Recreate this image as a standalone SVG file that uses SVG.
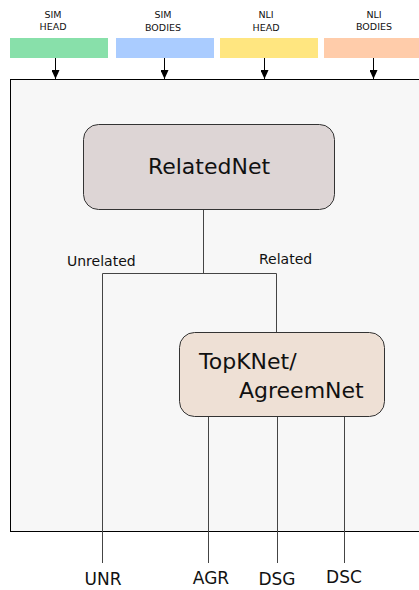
<svg xmlns="http://www.w3.org/2000/svg" width="419" height="590" viewBox="0 0 419 590">
<style>
text{font-family:"DejaVu Sans",Verdana,sans-serif;fill:#111}
.in{stroke:none}
.lbl{font-size:9.5px;text-anchor:middle}
.node{stroke:#333;stroke-width:1}
.conn{stroke:#444;stroke-width:1;fill:none}
.out{font-size:17px;text-anchor:middle}
</style>
<defs>
<marker id="arr" markerWidth="8" markerHeight="9" refX="4" refY="9" orient="0" markerUnits="userSpaceOnUse" viewBox="0 0 8 9">
<path d="M0,0 L8,0 L4,9 Z" fill="#000"/>
</marker>
</defs>
<rect x="10.5" y="79.5" width="420" height="452" fill="#f7f7f7" stroke="#000" stroke-width="1"/>
<g id="sim-head"><rect class="in" x="10" y="38" width="98" height="20" fill="#88e0aa"/><text class="lbl" x="53" y="18">SIM</text><text class="lbl" x="53" y="30">HEAD</text></g>
<g id="sim-bodies"><rect class="in" x="116" y="38" width="98" height="20" fill="#aaccff"/><text class="lbl" x="163" y="18">SIM</text><text class="lbl" x="163" y="31">BODIES</text></g>
<g id="nli-head"><rect class="in" x="220" y="38" width="98" height="20" fill="#ffe680"/><text class="lbl" x="266" y="18">NLI</text><text class="lbl" x="266" y="31">HEAD</text></g>
<g id="nli-bodies"><rect class="in" x="324" y="38" width="100" height="20" fill="#ffccaa"/><text class="lbl" x="374" y="18">NLI</text><text class="lbl" x="374" y="30">BODIES</text></g>
<g id="relatednet"><rect class="node" x="83.5" y="124.5" width="251" height="85" rx="15" fill="#ddd5d5"/><text x="209" y="174" font-size="22" text-anchor="middle">RelatedNet</text></g>
<g id="topknet"><rect class="node" x="179.5" y="332.5" width="205" height="84" rx="15" fill="#eee0d5"/><text x="199" y="369" font-size="22">TopKNet/</text><text x="239" y="397.5" font-size="22">AgreemNet</text></g>
<g id="connectors">
<line x1="55.5" y1="58" x2="55.5" y2="79" stroke="#000" marker-end="url(#arr)"/>
<line x1="164.5" y1="58" x2="164.5" y2="79" stroke="#000" marker-end="url(#arr)"/>
<line x1="264.5" y1="58" x2="264.5" y2="79" stroke="#000" marker-end="url(#arr)"/>
<line x1="373.5" y1="58" x2="373.5" y2="79" stroke="#000" marker-end="url(#arr)"/>
<path class="conn" d="M203.5,210 V273.5"/>
<path class="conn" d="M102.5,563 V273.5 H276.5 V332"/>
<path class="conn" d="M208.5,417 V563 M277.5,417 V563 M344.5,417 V563"/>
<text x="67" y="266" font-size="14">Unrelated</text>
<text x="259" y="264" font-size="14">Related</text>
</g>
<g id="outputs">
<text class="out" x="103" y="585">UNR</text>
<text class="out" x="211" y="584">AGR</text>
<text class="out" x="277" y="585">DSG</text>
<text class="out" x="344" y="583">DSC</text>
</g>
</svg>
